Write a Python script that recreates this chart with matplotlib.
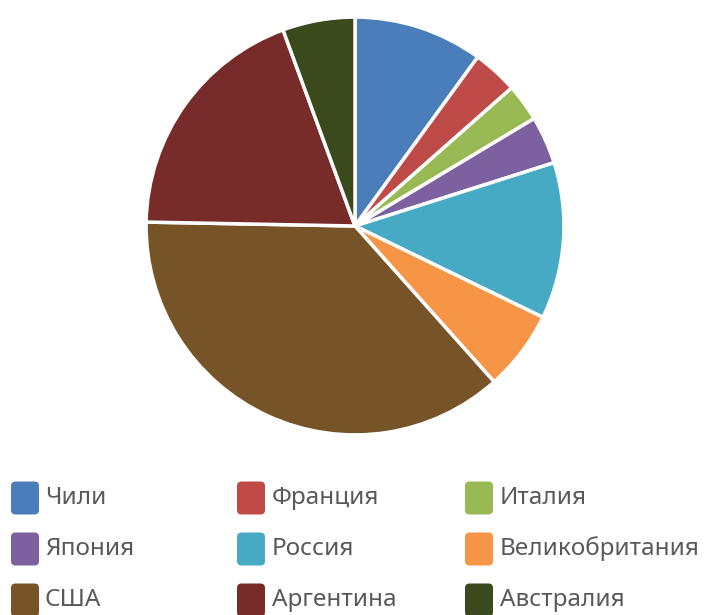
import matplotlib
matplotlib.use("Agg")
import matplotlib.pyplot as plt
from matplotlib.patches import FancyBboxPatch

plt.rcParams["font.family"] = ["Noto Sans", "DejaVu Sans"]

# Доли стран (%), по часовой стрелке от 12 часов
countries = ["Чили", "Франция", "Италия", "Япония", "Россия",
             "Великобритания", "США", "Аргентина", "Австралия"]
shares = [10.0, 3.5, 2.9, 3.7, 12.1, 6.2, 36.9, 19.1, 5.6]
colors = ["#4a7ebb", "#be4b48", "#98b954", "#7d60a0", "#46aac5",
          "#f69546", "#775427", "#772c2a", "#3a4a1c"]

W, H, DPI = 705, 615, 100
fig = plt.figure(figsize=(W / DPI, H / DPI), dpi=DPI)
fig.patch.set_facecolor("white")

# круг: центр (355, 226) px, радиус 211 px
cx, cy, r = 355, 226, 211
ax = fig.add_axes([(cx - r) / W, 1 - (cy + r) / H, 2 * r / W, 2 * r / H])
wedges, _ = ax.pie(shares, colors=colors, startangle=90, counterclock=False,
                   radius=1.0,
                   wedgeprops=dict(edgecolor="white", linewidth=2.5))
ax.set_xlim(-1.01, 1.01)
ax.set_ylim(-1.01, 1.01)
ax.set_aspect("equal")
ax.axis("off")

# легенда 3x3, построчно
box_x = [11, 237, 465]
text_x = [45, 272, 500]
row_y = [498, 549, 600]
bw, bh = 28, 33
for i, (name, c) in enumerate(zip(countries, colors)):
    col, row = i % 3, i // 3
    y = row_y[row]
    patch = FancyBboxPatch((box_x[col] / DPI, (H - y - bh / 2) / DPI),
                           bw / DPI, bh / DPI,
                           boxstyle="round,pad=0,rounding_size=0.045",
                           facecolor=c, edgecolor="none",
                           transform=fig.dpi_scale_trans)
    fig.patches.append(patch)
    fig.text(text_x[col] / W, 1 - y / H, name, fontsize=17.5,
             color="#595959", va="center", ha="left")

fig.savefig("out.png", dpi=DPI, facecolor="white")
